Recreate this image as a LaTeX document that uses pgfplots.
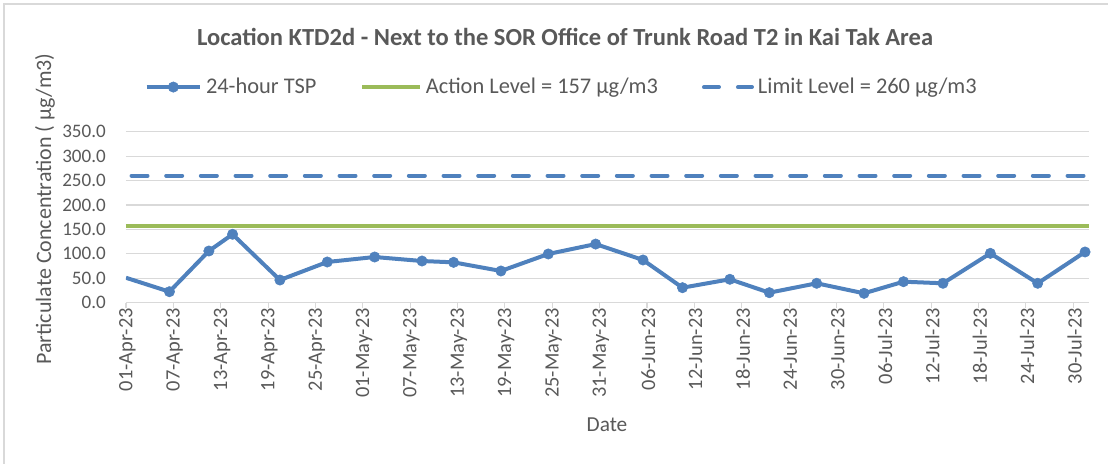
\documentclass[border=0pt]{standalone}
\usepackage{pgfplots}
\pgfplotsset{compat=1.18}
\usepackage{fontspec}
\setmainfont{Carlito}
\definecolor{tspblue}{HTML}{4F81BD}
\definecolor{actgreen}{HTML}{9BBB59}
\definecolor{gridgray}{HTML}{D9D9D9}
\definecolor{txtgray}{HTML}{595959}
\pgfplotsset{
  every axis title shift=0pt,
  tsplegend/.style={legend image code/.code={\draw[##1, mark repeat=2, mark phase=2] plot coordinates {(0pt,0pt) (20pt,0pt) (40pt,0pt)};}},
  actlegend/.style={legend image code/.code={\draw[##1] (0pt,0pt) -- (43pt,0pt);}},
  limlegend/.style={legend image code/.code={\draw[##1, solid] (1.5pt,0pt) -- (12.75pt,0pt); \draw[##1, solid] (27pt,0pt) -- (37.5pt,0pt);}},
}
\begin{document}
\begin{tikzpicture}
\useasboundingbox (0,0) rectangle (831pt,348pt);
\draw[gridgray, line width=0.8pt] (3pt,0) -- (3pt,345pt) -- (831pt,345pt);
\begin{axis}[
  at={(94.5pt,120.98pt)}, anchor=south west,
  scale only axis, width=722.25pt, height=128.25pt,
  xmin=0, xmax=122, ymin=0, ymax=350,
  xtick={0,6,...,120},
  xticklabels={01-Apr-23,07-Apr-23,13-Apr-23,19-Apr-23,25-Apr-23,01-May-23,07-May-23,13-May-23,19-May-23,25-May-23,31-May-23,06-Jun-23,12-Jun-23,18-Jun-23,24-Jun-23,30-Jun-23,06-Jul-23,12-Jul-23,18-Jul-23,24-Jul-23,30-Jul-23},
  ytick={0,50,...,350},
  yticklabel={\pgfmathprintnumber[fixed,fixed zerofill,precision=1]{\tick}},
  /pgf/number format/assume math mode=true,
  axis line style={draw=none},
  axis x line*=bottom,
  x axis line style={draw=gridgray, line width=0.8pt},
  ymajorgrids, grid style={gridgray, line width=0.8pt},
  tick align=outside,
  xtick style={draw=gridgray, line width=0.8pt},
  major tick length=4pt,
  ytick style={draw=none},
  xticklabel style={font=\fontsize{15.3}{17}\selectfont, text=txtgray, rotate=90, anchor=east, inner sep=0pt, yshift=-1pt},
  yticklabel style={font=\fontsize{14.3}{16}\selectfont, text=txtgray, anchor=east, inner sep=0pt, xshift=-11pt},
  xlabel={Date}, xlabel style={font=\fontsize{16}{18}\selectfont, text=txtgray, at={(0.4995,-0.715)}, anchor=center},
  ylabel={Particulate Concentration ( µg/m3)},
  ylabel style={font=\fontsize{16.5}{18}\selectfont, text=txtgray, at={(-0.0841,0.548)}, anchor=center},
  title={Location KTD2d - Next to the SOR Office of Trunk Road T2 in Kai Tak Area},
  title style={font=\bfseries\fontsize{18.4}{21}\selectfont, text=txtgray, at={(0.456,1.554)}, anchor=center},
  legend columns=3,
  legend style={at={(0.4528,1.261)}, anchor=center, draw=none, fill=none,
    font=\fontsize{16.8}{19}\selectfont, text=txtgray,
    /tikz/every odd column/.append style={column sep=1pt},
    /tikz/every even column/.append style={column sep=31pt}},
  legend cell align=left,
]
\addplot[tspblue, line width=3pt, line join=round, mark=*, mark size=3.9pt, mark options={solid, fill=tspblue, draw=tspblue, line width=0.4pt}, mark repeat=1, mark phase=2, tsplegend]
coordinates {
(0,51.0) (5.5,22.5) (10.5,105.8) (13.5,140.0) (19.5,46.4) (25.5,83.3) (31.5,93.5)
(37.5,85.3) (41.5,82.6) (47.5,64.9) (53.5,99.7) (59.5,120.0) (65.5,87.4)
(70.5,30.7) (76.5,47.9) (81.5,20.5) (87.5,39.7) (93.5,19.2) (98.5,43.0)
(103.5,39.7) (109.5,101.0) (115.5,39.7) (121.5,103.8)
};
\addlegendentry{24-hour TSP}
\addplot[actgreen, line width=3pt, actlegend]
coordinates {(0,157) (122,157)};
\addlegendentry{Action Level = 157 µg/m3}
\addplot[tspblue, line width=3pt, line cap=round, dash pattern=on 12pt off 14pt, limlegend]
coordinates {(0.7,260) (122,260)};
\addlegendentry{Limit Level = 260 µg/m3}
\end{axis}
\end{tikzpicture}
\end{document}
